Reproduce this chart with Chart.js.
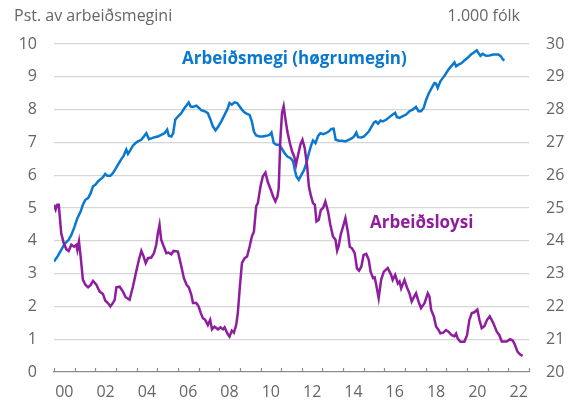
<!DOCTYPE html>
<html lang="fo">
<head>
    <meta charset="UTF-8">
    <title>Arbeiðsloysi og arbeiðsmegi</title>
    <style>
        body {
            margin: 0;
            padding: 0;
            background: #ffffff;
        }
        .chart-box {
            width: 575px;
            height: 402px;
        }
    </style>
</head>
<body>
    <div class="chart-box">
        <canvas id="labourChart" width="575" height="402"></canvas>
    </div>
    <script src="https://cdn.jsdelivr.net/npm/chart.js"></script>
    <script>
        // Arbeiðsloysi, pst. av arbeiðsmegini (vinstra ás)
        const unempYears = [
            2000.0, 2000.08, 2000.16, 2000.23, 2000.35, 2000.47, 2000.6, 2000.71, 2000.84, 2000.97,
            2001.08, 2001.13, 2001.21, 2001.29, 2001.4, 2001.52, 2001.65, 2001.76, 2001.89,
            2002.05, 2002.21, 2002.37, 2002.48, 2002.61, 2002.73, 2002.85, 2002.94,
            2003.02, 2003.18, 2003.34, 2003.47, 2003.66, 2003.82, 2003.98,
            2004.11, 2004.23, 2004.34, 2004.44, 2004.55, 2004.71, 2004.84, 2004.95,
            2005.03, 2005.11, 2005.19, 2005.32, 2005.44, 2005.55, 2005.68, 2005.79,
            2006.0, 2006.13, 2006.29, 2006.42, 2006.53, 2006.65, 2006.73, 2006.89,
            2007.0, 2007.1, 2007.21, 2007.32, 2007.45, 2007.56, 2007.65, 2007.77, 2007.94,
            2008.06, 2008.18, 2008.26, 2008.39, 2008.5, 2008.61, 2008.71, 2008.82, 2008.9,
            2009.0, 2009.1, 2009.23, 2009.35, 2009.47, 2009.58, 2009.68, 2009.79, 2009.87,
            2010.0, 2010.11, 2010.24, 2010.35, 2010.5, 2010.61, 2010.72, 2010.82, 2010.88, 2010.96,
            2011.04, 2011.12, 2011.2, 2011.3, 2011.42, 2011.53, 2011.63, 2011.72, 2011.82, 2011.93,
            2012.03, 2012.14, 2012.26, 2012.34, 2012.43, 2012.54, 2012.63, 2012.71, 2012.82, 2012.92,
            2013.03, 2013.14, 2013.27, 2013.38, 2013.51, 2013.63, 2013.71, 2013.79, 2013.88,
            2014.0, 2014.11, 2014.24, 2014.32, 2014.43, 2014.56, 2014.67, 2014.77, 2014.88, 2014.99,
            2015.12, 2015.24, 2015.33, 2015.45, 2015.53, 2015.62, 2015.72, 2015.84, 2015.97,
            2016.16, 2016.32, 2016.4, 2016.52, 2016.65, 2016.73, 2016.81, 2016.97,
            2017.08, 2017.21, 2017.32, 2017.4, 2017.53, 2017.65, 2017.77, 2017.94,
            2018.1, 2018.18, 2018.26, 2018.39, 2018.5, 2018.61, 2018.71, 2018.85, 2018.98,
            2019.1, 2019.26, 2019.39, 2019.47, 2019.55, 2019.68, 2019.87,
            2020.0, 2020.11, 2020.23, 2020.35, 2020.5, 2020.6, 2020.71, 2020.84, 2020.97,
            2021.1, 2021.27, 2021.44, 2021.56, 2021.68, 2021.92,
            2022.08, 2022.21, 2022.32, 2022.44, 2022.56, 2022.69
        ];
        const unempRate = [
            5.1, 4.95, 5.1, 5.1, 4.23, 3.93, 3.74, 3.69, 3.88, 3.82,
            3.88, 3.72, 3.98, 3.52, 2.81, 2.66, 2.58, 2.64, 2.78,
            2.66, 2.45, 2.38, 2.18, 2.1, 2.0, 2.1, 2.2,
            2.58, 2.6, 2.45, 2.28, 2.2, 2.6, 3.06,
            3.42, 3.69, 3.52, 3.32, 3.47, 3.49, 3.62, 3.88,
            4.23, 4.49, 4.03, 3.82, 3.62, 3.64, 3.59, 3.69,
            3.67, 3.32, 2.86, 2.66, 2.58, 2.35, 2.1, 2.1,
            2.0, 1.81, 1.64, 1.59, 1.43, 1.59, 1.3, 1.38, 1.3,
            1.36, 1.3, 1.36, 1.18, 1.08, 1.26, 1.2, 1.43, 1.79,
            2.6, 3.32, 3.47, 3.52, 3.82, 4.13, 4.28, 5.05, 5.15,
            5.66, 5.96, 6.08, 5.8, 5.55, 5.35, 5.2, 5.35, 5.6, 7.08,
            7.89, 8.1, 7.74, 7.33, 6.98, 6.72, 6.57, 6.32, 6.62, 6.93,
            7.08, 6.83, 6.27, 5.66, 5.4, 5.15, 5.1, 4.59, 4.64, 4.94,
            5.0, 5.2, 4.89, 4.49, 4.13, 4.03, 3.7, 3.85, 4.18,
            4.44, 4.69, 4.23, 3.82, 3.77, 3.62, 3.16, 3.09, 3.21, 3.57,
            3.6, 3.42, 3.06, 2.86, 2.88, 2.6, 2.25, 2.81, 3.06,
            3.17, 2.97, 2.81, 2.96, 2.7, 2.76, 2.55, 2.81,
            2.6, 2.4, 2.15, 2.25, 2.4, 2.15, 1.95, 2.1,
            2.4, 2.3, 1.9, 1.7, 1.39, 1.29, 1.18, 1.2, 1.28,
            1.23, 1.12, 1.09, 1.17, 1.02, 0.92, 0.92,
            1.12, 1.58, 1.8, 1.82, 1.9, 1.59, 1.34, 1.4, 1.59,
            1.7, 1.49, 1.23, 1.13, 0.93, 0.93,
            1.0, 0.96, 0.83, 0.62, 0.54, 0.49
        ];

        // Arbeiðsmegi, 1.000 fólk (høgra ás)
        const labourYears = [
            2000.0, 2000.19, 2000.35, 2000.52, 2000.71, 2000.84,
            2001.0, 2001.13, 2001.29, 2001.4, 2001.52, 2001.65, 2001.76, 2001.89,
            2002.0, 2002.13, 2002.26, 2002.37, 2002.48, 2002.58, 2002.73, 2002.85, 2002.98,
            2003.13, 2003.26, 2003.37, 2003.5, 2003.58, 2003.71, 2003.82, 2003.95,
            2004.06, 2004.23, 2004.35, 2004.47, 2004.6, 2004.74, 2004.87,
            2005.03, 2005.19, 2005.35, 2005.48, 2005.56, 2005.68, 2005.77, 2005.87,
            2006.0, 2006.16, 2006.32, 2006.44, 2006.52, 2006.61, 2006.73, 2006.89,
            2007.02, 2007.13, 2007.29, 2007.45, 2007.58, 2007.69, 2007.82, 2007.94,
            2008.1, 2008.26, 2008.42, 2008.5, 2008.61, 2008.74, 2008.87, 2008.98,
            2009.1, 2009.23, 2009.35, 2009.47, 2009.58, 2009.68, 2009.79, 2009.95,
            2010.11, 2010.27, 2010.44, 2010.53, 2010.64, 2010.77, 2010.88,
            2011.01, 2011.17, 2011.3, 2011.46, 2011.58, 2011.66, 2011.74, 2011.85, 2011.98,
            2012.11, 2012.22, 2012.34, 2012.46, 2012.54, 2012.66, 2012.79, 2012.9,
            2013.03, 2013.16, 2013.3, 2013.43, 2013.54, 2013.64, 2013.79, 2013.95,
            2014.11, 2014.27, 2014.43, 2014.53, 2014.64, 2014.72, 2014.88,
            2015.01, 2015.12, 2015.24, 2015.37, 2015.5, 2015.58, 2015.69, 2015.81, 2015.92,
            2016.08, 2016.24, 2016.4, 2016.52, 2016.61, 2016.73, 2016.89,
            2017.05, 2017.21, 2017.37, 2017.53, 2017.65, 2017.77, 2017.9,
            2018.02, 2018.15, 2018.29, 2018.42, 2018.5, 2018.58, 2018.71, 2018.82, 2018.95,
            2019.1, 2019.26, 2019.39, 2019.47, 2019.58, 2019.74, 2019.87,
            2020.03, 2020.19, 2020.35, 2020.47, 2020.55, 2020.65, 2020.76, 2020.92,
            2021.08, 2021.27, 2021.52, 2021.63, 2021.73, 2021.81
        ];
        const labourForce = [
            23.37, 23.54, 23.72, 23.91, 24.03, 24.18,
            24.44, 24.69, 24.89, 25.1, 25.25, 25.3, 25.43, 25.66,
            25.71, 25.81, 25.88, 25.94, 26.04, 25.98, 25.98, 26.06, 26.19,
            26.35, 26.49, 26.59, 26.78, 26.65, 26.78, 26.9, 26.98,
            27.03, 27.08, 27.18, 27.28, 27.1, 27.13, 27.16,
            27.18, 27.23, 27.28, 27.39, 27.2, 27.18, 27.28, 27.69,
            27.79, 27.89, 28.05, 28.15, 28.22, 28.1, 28.08, 28.12,
            28.05, 27.98, 27.95, 27.89, 27.69, 27.49, 27.37, 27.47,
            27.64, 27.84, 28.05, 28.2, 28.15, 28.22, 28.2, 28.1,
            28.0, 27.91, 27.87, 27.84, 27.64, 27.33, 27.21, 27.18,
            27.18, 27.2, 27.23, 27.3, 26.98, 26.93, 26.93,
            26.83, 26.67, 26.57, 26.52, 26.42, 26.16, 25.96, 25.86, 26.01,
            26.16, 26.37, 26.67, 26.93, 27.06, 26.98, 27.2, 27.28,
            27.25, 27.28, 27.33, 27.41, 27.42, 27.08, 27.05, 27.05,
            27.03, 27.08, 27.13, 27.18, 27.3, 27.16, 27.15,
            27.18, 27.25, 27.33, 27.47, 27.61, 27.64, 27.57, 27.67, 27.64,
            27.69, 27.77, 27.85, 27.9, 27.77, 27.75, 27.8,
            27.85, 27.95, 28.0, 28.08, 27.95, 27.95, 28.05,
            28.3, 28.5, 28.66, 28.81, 28.79, 28.66, 28.86, 28.96, 29.07,
            29.22, 29.34, 29.44, 29.32, 29.37, 29.42, 29.5,
            29.58, 29.68, 29.75, 29.81, 29.73, 29.64, 29.7, 29.64,
            29.65, 29.68, 29.68, 29.63, 29.53, 29.5
        ];

        const blue = '#0a78cf';
        const purple = '#8e1e9e';
        const textGrey = '#666666';
        const fontFamily = "'Open Sans', sans-serif";

        const unempPoints = unempYears.map((yr, i) => ({ x: yr, y: unempRate[i] }));
        const labourPoints = labourYears.map((yr, i) => ({ x: yr, y: labourForce[i] }));

        // small upward tick marks on the x axis, one per year
        const yearTicks = {
            id: 'yearTicks',
            beforeDatasetsDraw(chart) {
                const ctx = chart.ctx;
                const xs = chart.scales.x;
                const bottom = chart.chartArea.bottom;
                ctx.save();
                ctx.strokeStyle = '#8c8c8c';
                ctx.lineWidth = 1.2;
                for (let yr = xs.min; yr <= xs.max; yr++) {
                    const px = Math.round(xs.getPixelForValue(yr)) + 0.5;
                    ctx.beginPath();
                    ctx.moveTo(px, bottom);
                    ctx.lineTo(px, bottom - 4);
                    ctx.stroke();
                }
                ctx.restore();
            }
        };

        // series names inside the plot and the axis unit texts on top
        const textLabels = {
            id: 'textLabels',
            afterDatasetsDraw(chart) {
                const ctx = chart.ctx;
                const xs = chart.scales.x;
                const yl = chart.scales.y;
                ctx.save();
                ctx.font = "bold 17px " + fontFamily;
                ctx.textBaseline = 'middle';

                ctx.fillStyle = blue;
                ctx.textAlign = 'center';
                ctx.fillText('Arbeiðsmegi (høgrumegin)', xs.getPixelForValue(2011.64), yl.getPixelForValue(9.55));

                ctx.fillStyle = purple;
                ctx.textAlign = 'left';
                ctx.fillText('Arbeiðsloysi', xs.getPixelForValue(2015.3), yl.getPixelForValue(4.54));

                ctx.font = "16px " + fontFamily;
                ctx.fillStyle = textGrey;
                ctx.textAlign = 'left';
                ctx.fillText('Pst. av arbeiðsmegini', 14, 16);
                ctx.textAlign = 'right';
                ctx.fillText('1.000 fólk', 520, 16);
                ctx.restore();
            }
        };

        const ctx = document.getElementById('labourChart').getContext('2d');
        const labourChart = new Chart(ctx, {
            type: 'line',
            data: {
                datasets: [
                    {
                        label: 'Arbeiðsloysi',
                        data: unempPoints,
                        yAxisID: 'y',
                        borderColor: purple,
                        borderWidth: 2.5,
                        pointRadius: 0,
                        tension: 0
                    },
                    {
                        label: 'Arbeiðsmegi (høgrumegin)',
                        data: labourPoints,
                        yAxisID: 'y2',
                        borderColor: blue,
                        borderWidth: 2.5,
                        pointRadius: 0,
                        tension: 0
                    }
                ]
            },
            options: {
                responsive: false,
                animation: false,
                layout: {
                    padding: { top: 44, left: 0, right: 0, bottom: 0 }
                },
                plugins: {
                    legend: { display: false },
                    tooltip: { enabled: false }
                },
                scales: {
                    x: {
                        type: 'linear',
                        min: 2000,
                        max: 2023,
                        afterFit: (scale) => { scale.height = 30; },
                        grid: { display: false, drawTicks: false },
                        border: { display: true, color: '#8c8c8c', width: 1.2 },
                        ticks: {
                            stepSize: 1,
                            autoSkip: false,
                            maxRotation: 0,
                            padding: 11,
                            labelOffset: 10.3,
                            color: textGrey,
                            font: { family: fontFamily, size: 16 },
                            callback: (v) => (v % 2 === 0 && v < 2023) ? String(v).slice(2) : ''
                        }
                    },
                    y: {
                        position: 'left',
                        min: 0,
                        max: 10,
                        afterFit: (scale) => { scale.width = 54; },
                        border: { display: false },
                        grid: {
                            drawTicks: false,
                            lineWidth: 1.3,
                            color: (c) => c.tick && c.tick.value === 0 ? 'rgba(0,0,0,0)' : '#d6d6d6'
                        },
                        ticks: {
                            stepSize: 1,
                            padding: 17,
                            color: textGrey,
                            font: { family: fontFamily, size: 16 }
                        }
                    },
                    y2: {
                        position: 'right',
                        min: 20,
                        max: 30,
                        afterFit: (scale) => { scale.width = 46; },
                        border: { display: false },
                        grid: { display: false, drawTicks: false },
                        ticks: {
                            stepSize: 1,
                            padding: 17,
                            color: textGrey,
                            font: { family: fontFamily, size: 16 }
                        }
                    }
                }
            },
            plugins: [yearTicks, textLabels]
        });
    </script>
</body>
</html>
